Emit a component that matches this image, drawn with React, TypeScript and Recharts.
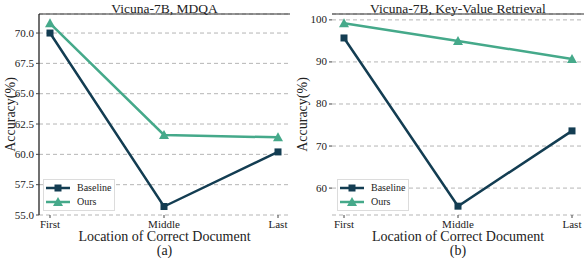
import React from "react";
import { LineChart, Line, XAxis, YAxis, CartesianGrid, Legend, ReferenceLine } from "recharts";

const categories = ["First", "Middle", "Last"];
const baselineMDQA = [70.0, 55.7, 60.2];
const oursMDQA = [70.8, 61.6, 61.4];
const baselineKV = [95.7, 55.7, 73.6];
const oursKV = [99.2, 95.0, 90.7];
const ticksMDQA = [55, 57.5, 60, 62.5, 65, 67.5, 70];
const ticksKV = [60, 70, 80, 90, 100];

const BASE_COLOR = "#133d52";
const OURS_COLOR = "#45a98a";
const FONT = "'Liberation Serif', 'Times New Roman', Tinos, 'DejaVu Serif', serif";

const mdqaData = categories.map((c, i) => ({ cat: c, baseline: baselineMDQA[i], ours: oursMDQA[i] }));
const kvData = categories.map((c, i) => ({ cat: c, baseline: baselineKV[i], ours: oursKV[i] }));

const SquareDot = (props: any) => {
  const { cx, cy } = props;
  if (cx == null || cy == null) return null;
  return <rect x={cx - 3.5} y={cy - 3.5} width={7} height={7} fill={BASE_COLOR} />;
};
const TriDot = (props: any) => {
  const { cx, cy } = props;
  if (cx == null || cy == null) return null;
  return <polygon points={`${cx},${cy - 5} ${cx - 5},${cy + 4} ${cx + 5},${cy + 4}`} fill={OURS_COLOR} />;
};

const LegendContent = (props: any) => {
  const { payload } = props;
  return (
    <div style={{ border: "1px solid #dcdcdc", background: "#fff", width: 72, height: 32, boxSizing: "border-box", fontFamily: FONT, fontSize: 10, color: "#222", lineHeight: "14px" }}>
      {(payload || []).map((p: any, i: number) => (
        <div key={i} style={{ display: "flex", alignItems: "center", height: 14, marginTop: i === 0 ? 1 : 0 }}>
          <svg width={30} height={12} style={{ marginLeft: 1, flex: "none" }}>
            <line x1={1} y1={6} x2={25} y2={6} stroke={p.color} strokeWidth={2.5} />
            {p.dataKey === "baseline" ? (
              <rect x={9.5} y={2.5} width={7} height={7} fill={p.color} />
            ) : (
              <polygon points="13,1 8,10 18,10" fill={p.color} />
            )}
          </svg>
          <span style={{ marginLeft: 2, whiteSpace: "nowrap", fontFamily: FONT }}>{p.value}</span>
        </div>
      ))}
    </div>
  );
};

const XLabel = (tag: string) => (props: any) => {
  const vb = props.viewBox || {};
  const cx = vb.x + vb.width / 2;
  return (
    <g>
      <text x={cx} y={241} textAnchor="middle" style={{ fontFamily: FONT, fontSize: 14 }} fill="#222">
        Location of Correct Document
      </text>
      <text x={cx} y={255} textAnchor="middle" style={{ fontFamily: FONT, fontSize: 14 }} fill="#222">
        {tag}
      </text>
    </g>
  );
};

const SerifTick = (decimals: number | null, axis: "x" | "y") => (props: any) => {
  const { x, y, payload } = props;
  const v = payload.value;
  const s = decimals == null ? String(v) : Number(v).toFixed(decimals);
  if (axis === "x") {
    return (
      <text x={x} y={y + 9} textAnchor="middle" style={{ fontFamily: FONT, fontSize: 11 }} fill="#222">
        {s}
      </text>
    );
  }
  return (
    <text x={x} y={y + 3.5} textAnchor="end" style={{ fontFamily: FONT, fontSize: 11 }} fill="#222">
      {s}
    </text>
  );
};

const YLabel = (props: any) => {
  const vb = props.viewBox || {};
  const cy = vb.y + vb.height / 2;
  const cx = 15;
  return (
    <text x={cx} y={cy} transform={`rotate(-90, ${cx}, ${cy})`} textAnchor="middle" style={{ fontFamily: FONT, fontSize: 14 }} fill="#222">
      Accuracy(%)
    </text>
  );
};

const TitleLabel = (title: string) => (props: any) => {
  const vb = props.viewBox || {};
  const cx = vb.x + vb.width / 2;
  return (
    <text x={cx} y={12.5} textAnchor="middle" style={{ fontFamily: FONT, fontSize: 13.5 }} fill="#222">
      {title}
    </text>
  );
};

function Panel(props: {
  data: any[];
  domain: [number, number];
  ticks: number[];
  title: string;
  tag: string;
  leftSpine: boolean;
  yWidth: number;
  decimals: number;
  padL: number;
  padR: number;
  legendLeft: number;
  rightMargin: number;
}) {
  const { data, domain, ticks, title, tag, leftSpine, yWidth, decimals, padL, padR, legendLeft, rightMargin } = props;
  return (
    <LineChart width={292} height={258} data={data} margin={{ top: 14, right: rightMargin, left: 0, bottom: 23 }}>
      <CartesianGrid horizontal={true} vertical={false} stroke="#b5b5b5" strokeDasharray="4 3" strokeWidth={1} />
      <XAxis
        dataKey="cat"
        height={20}
        padding={{ left: padL, right: padR }}
        axisLine={false}
        tickLine={{ stroke: "#444" }}
        tickSize={3}
        tickMargin={1}
        tick={SerifTick(null, "x")}
        interval={0}
        label={XLabel(tag)}
      />
      <YAxis
        width={yWidth}
        domain={domain}
        ticks={ticks}
        type="number"
        allowDataOverflow
        axisLine={leftSpine ? { stroke: "#111", strokeWidth: 1.2 } : false}
        tickLine={{ stroke: "#444" }}
        tickSize={3}
        tickMargin={2}
        tick={SerifTick(decimals, "y")}
        label={YLabel}
      />
      <ReferenceLine
        y={domain[1]}
        stroke="#333"
        strokeWidth={1.2}
        ifOverflow="extendDomain"
        label={TitleLabel(title)}
      />
      <Legend
        layout="horizontal"
        verticalAlign="middle"
        align="center"
        content={LegendContent}
        wrapperStyle={{ position: "absolute", left: legendLeft, top: 179, width: 72, height: 32 }}
      />
      <Line dataKey="baseline" name="Baseline" stroke={BASE_COLOR} strokeWidth={2.5} dot={SquareDot} activeDot={false} isAnimationActive={false} />
      <Line dataKey="ours" name="Ours" stroke={OURS_COLOR} strokeWidth={2.5} dot={TriDot} activeDot={false} isAnimationActive={false} />
    </LineChart>
  );
}

export default function App() {
  return (
    <div style={{ position: "absolute", left: 0, top: 0, width: 584, height: 258, background: "#fff", overflow: "hidden", fontFamily: FONT }}>
      <div style={{ position: "absolute", left: 0, top: 0 }}>
        <Panel data={mdqaData} domain={[55, 71.57]} ticks={ticksMDQA} title="Vicuna-7B, MDQA" tag="(a)" leftSpine={true} yWidth={39} decimals={1} padL={11} padR={12} legendLeft={43} rightMargin={2} />
      </div>
      <div style={{ position: "absolute", left: 292, top: 0 }}>
        <Panel data={kvData} domain={[53.6, 101.4]} ticks={ticksKV} title="Vicuna-7B, Key-Value Retrieval" tag="(b)" leftSpine={false} yWidth={40} decimals={0} padL={12} padR={12} legendLeft={45} rightMargin={0} />
      </div>
    </div>
  );
}
